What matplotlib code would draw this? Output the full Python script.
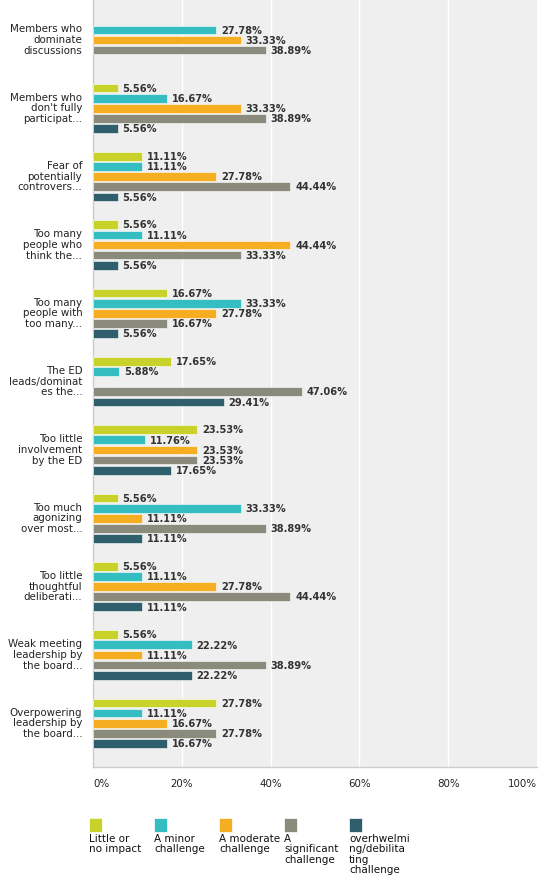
import numpy as np
import matplotlib.pyplot as plt
from matplotlib.patches import Rectangle

# categories (top to bottom)
categories = [
    "Members who\ndominate\ndiscussions",
    "Members who\ndon't fully\nparticipat...",
    "Fear of\npotentially\ncontrovers...",
    "Too many\npeople who\nthink the...",
    "Too many\npeople with\ntoo many...",
    "The ED\nleads/dominat\nes the...",
    "Too little\ninvolvement\nby the ED",
    "Too much\nagonizing\nover most...",
    "Too little\nthoughtful\ndeliberati...",
    "Weak meeting\nleadership by\nthe board...",
    "Overpowering\nleadership by\nthe board...",
]

series_names = [
    "Little or\nno impact",
    "A minor\nchallenge",
    "A moderate\nchallenge",
    "A\nsignificant\nchallenge",
    "overhwelmi\nng/debilita\nting\nchallenge",
]

little = [None, 5.56, 11.11, 5.56, 16.67, 17.65, 23.53, 5.56, 5.56, 5.56, 27.78]
minor = [27.78, 16.67, 11.11, 11.11, 33.33, 5.88, 11.76, 33.33, 11.11, 22.22, 11.11]
moderate = [33.33, 33.33, 27.78, 44.44, 27.78, None, 23.53, 11.11, 27.78, 11.11, 16.67]
significant = [38.89, 38.89, 44.44, 33.33, 16.67, 47.06, 23.53, 38.89, 44.44, 38.89, 27.78]
overwhelming = [None, 5.56, 5.56, 5.56, 5.56, 29.41, 17.65, 11.11, 11.11, 22.22, 16.67]

colors = ['#c8d22b', '#35bec1', '#f5ad22', '#8a8b7c', '#2f5e6c']

tick_vals = [0, 20, 40, 60, 80, 100]
tick_labels = ['0%', '20%', '40%', '60%', '80%', '100%']


def main():
    fig = plt.figure(figsize=(5.54, 8.84), dpi=100)
    ax = fig.add_axes([93 / 554, 1 - 767 / 884, 444 / 554, 767 / 884])
    ax.set_facecolor('#efefef')

    all_series = [little, minor, moderate, significant, overwhelming]
    n = len(categories)
    y = np.arange(n)
    slot = 0.148
    bar_h = 0.127

    for k, (vals, col) in enumerate(zip(all_series, colors)):
        offs = (k - 2) * slot
        for i, v in enumerate(vals):
            if v is None:
                continue
            ax.barh(y[i] + offs, v, height=bar_h, color=col,
                    edgecolor='white', linewidth=0.4, zorder=3)
            ax.text(v + 1.1, y[i] + offs + 0.01, f'{v:.2f}%', va='center',
                    ha='left', fontsize=7.1, fontweight='bold', color='#333333',
                    zorder=4)

    # category labels
    for i, lab in enumerate(categories):
        ax.text(-2.4, y[i], lab, ha='right', va='center', fontsize=7.4,
                color='#222222', linespacing=1.08, clip_on=False)

    ax.set_xlim(0, 100)
    ax.set_ylim(n - 1 + 0.64, -0.585)

    for t in tick_vals[1:-1]:
        ax.axvline(t, color='white', linewidth=1, zorder=1)

    ax.set_xticks([])
    ax.set_yticks([])
    for s in ['top', 'right']:
        ax.spines[s].set_visible(False)
    ax.spines['left'].set_color('#cccccc')
    ax.spines['bottom'].set_color('#cccccc')
    ax.spines['left'].set_linewidth(1)
    ax.spines['bottom'].set_linewidth(1)

    # x tick labels
    for t, lab in zip(tick_vals, tick_labels):
        ha = 'center'
        if t == 0:
            ha = 'left'
        elif t == 100:
            ha = 'right'
        ax.text(t, n - 1 + 0.64 + 0.25, lab, ha=ha, va='center', fontsize=7.4,
                color='#222222', clip_on=False)

    # legend
    x0 = 89
    dx = 65
    for k, (name, col) in enumerate(zip(series_names, colors)):
        xp = x0 + k * dx
        fig.patches.append(Rectangle((xp / 554, 1 - 832 / 884), 13 / 554, 14 / 884,
                                     transform=fig.transFigure, facecolor=col,
                                     edgecolor='white', linewidth=0.5))
        fig.text(xp / 554, 1 - 834 / 884, name, ha='left', va='top',
                 fontsize=7.5, color='#111111', linespacing=1.05)

    plt.savefig('out.png', dpi=100)
    plt.close()


if __name__ == "__main__":
    main()
